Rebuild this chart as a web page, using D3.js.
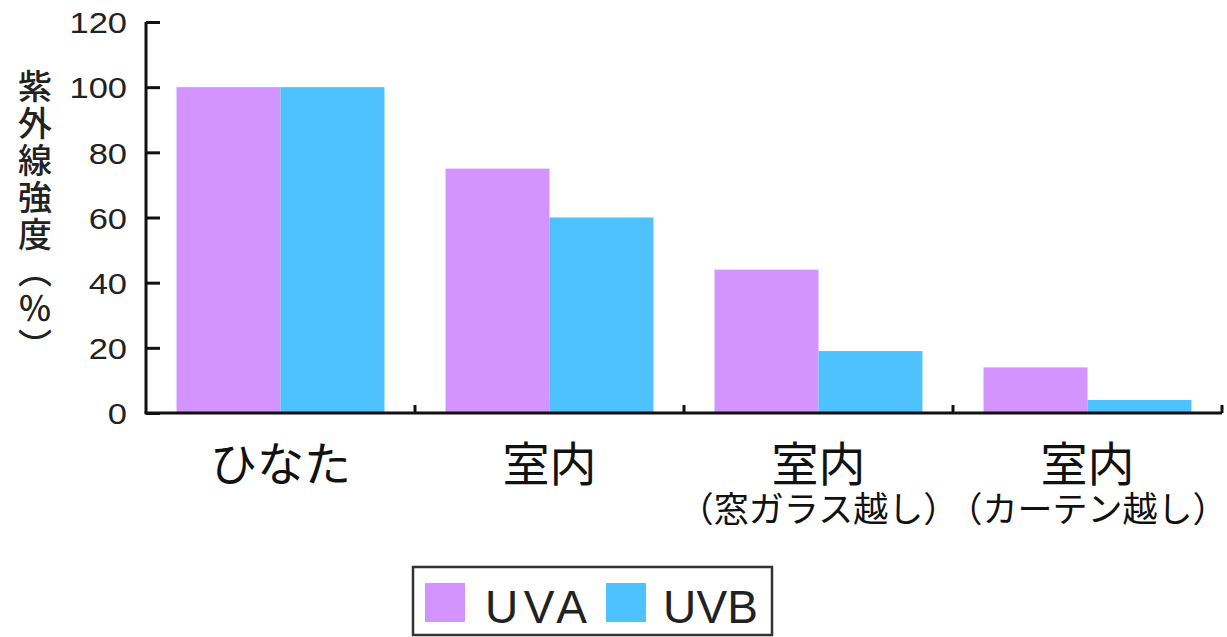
<!DOCTYPE html>
<html><head><meta charset="utf-8">
<script src="https://cdn.jsdelivr.net/npm/d3@7"></script>
<style>body{margin:0;background:#fff;} svg{display:block;}</style>
</head><body>
<svg id="chart" width="1227" height="637"></svg>
<script>
const categories = ["ひなた", "室内", "室内（窓ガラス越し）", "室内（カーテン越し）"];
const categoryLines = [["ひなた"], ["室内"], ["室内", "（窓ガラス越し）"], ["室内", "（カーテン越し）"]];
const seriesNames = ["UVA", "UVB"];
const uvaValues = [100, 75, 44, 14];
const uvbValues = [100, 60, 19, 4];
const yTicks = [0, 20, 40, 60, 80, 100, 120];
const yLabel = "紫外線強度（％）";
const colors = {UVA: "#d394ff", UVB: "#4dc2ff"};

const svg = d3.select("#chart");
const mLeft = 146, mRight = 1222, mTop = 22, mBottom = 413;
const jp = "'Noto Sans CJK JP', sans-serif";

const y = d3.scaleLinear().domain([0, 120]).range([mBottom, mTop]);
const x0 = d3.scaleBand().domain(categories).range([mLeft, mRight]).paddingInner(0.227).paddingOuter(0.1135);
const x1 = d3.scaleBand().domain(seriesNames).range([0, x0.bandwidth()]).padding(0);

const data = categories.map((c, i) => ({cat: c, vals: [{s: "UVA", v: uvaValues[i]}, {s: "UVB", v: uvbValues[i]}]}));

// bars
const g = svg.append("g");
g.selectAll("g.grp").data(data).join("g").attr("class", "grp")
  .attr("transform", d => `translate(${x0(d.cat)},0)`)
  .selectAll("rect").data(d => d.vals).join("rect")
  .attr("x", d => x1(d.s)).attr("width", x1.bandwidth())
  .attr("y", d => y(d.v)).attr("height", d => y(0) - y(d.v))
  .attr("fill", d => colors[d.s]);

// y axis
const yAxis = d3.axisLeft(y).tickValues(yTicks).tickSize(-14).tickPadding(0).tickFormat(d3.format("d"));
const ya = svg.append("g").attr("transform", `translate(${mLeft},0)`).call(yAxis);
ya.select(".domain").attr("d", `M0,${mTop}V${mBottom}`).attr("stroke", "#111").attr("stroke-width", 3);
ya.selectAll(".tick line").attr("stroke", "#111").attr("stroke-width", 3);
ya.selectAll(".tick text").attr("x", -19).attr("dy", "0.36em")
  .attr("font-family", "'Liberation Sans', Arial, sans-serif").attr("font-size", 30)
  .attr("fill", "#222").attr("transform", "scale(1.15,1)").attr("transform-origin", "-19 0");

// x axis
const step = x0.step();
const boundaries = categories.map(c => x0(c) - step * x0.paddingInner() / 2 + step);
const xAxis = d3.axisBottom(x0).tickSize(0).tickFormat("");
const xa = svg.append("g").attr("transform", `translate(0,${mBottom})`).call(xAxis);
xa.select(".domain").attr("d", `M${mLeft - 1.5},0H${mRight}`).attr("stroke", "#111").attr("stroke-width", 3);
xa.selectAll(".btick").data(boundaries).join("line").attr("class", "btick")
  .attr("x1", d => d).attr("x2", d => d).attr("y1", 0).attr("y2", -8)
  .attr("stroke", "#111").attr("stroke-width", 3);

// x labels (one text element per category, lines as tspans)
const lab = svg.append("g");
categories.forEach((c, i) => {
  const cx = x0(c) + x0.bandwidth() / 2;
  const lines = categoryLines[i];
  const t = lab.append("text").attr("x", cx).attr("y", 481).attr("text-anchor", "middle")
    .attr("font-family", jp).attr("fill", "#111");
  t.append("tspan").attr("x", cx).attr("font-size", 47).text(lines[0]);
  if (lines[1]) {
    t.append("tspan").attr("x", cx).attr("dy", 41).attr("font-size", 35).text(lines[1]);
  }
});

// y label (vertical)
svg.append("text").attr("x", 35).attr("y", 69)
  .style("writing-mode", "vertical-rl").style("text-orientation", "upright")
  .attr("font-family", jp).attr("font-size", 34).attr("font-weight", 500).attr("letter-spacing", 3)
  .attr("fill", "#222").text(yLabel);

// legend
const lg = svg.append("g");
lg.append("rect").attr("x", 413).attr("y", 567).attr("width", 359).attr("height", 68)
  .attr("fill", "#fff").attr("stroke", "#333").attr("stroke-width", 2.5);
const legendPos = [{s: "UVA", sx: 425, tx: 485}, {s: "UVB", sx: 606, tx: 663}];
legendPos.forEach(p => {
  lg.append("rect").attr("x", p.sx).attr("y", 583).attr("width", 40).attr("height", 39).attr("fill", colors[p.s]);
  lg.append("text").attr("x", p.tx).attr("y", 623).attr("font-family", "'Liberation Sans', Arial, sans-serif")
    .attr("font-size", 46).attr("fill", "#222").attr("textLength", p.s === "UVA" ? 102 : 95)
    .attr("lengthAdjust", "spacing").text(p.s);
});
</script>
</body></html>
